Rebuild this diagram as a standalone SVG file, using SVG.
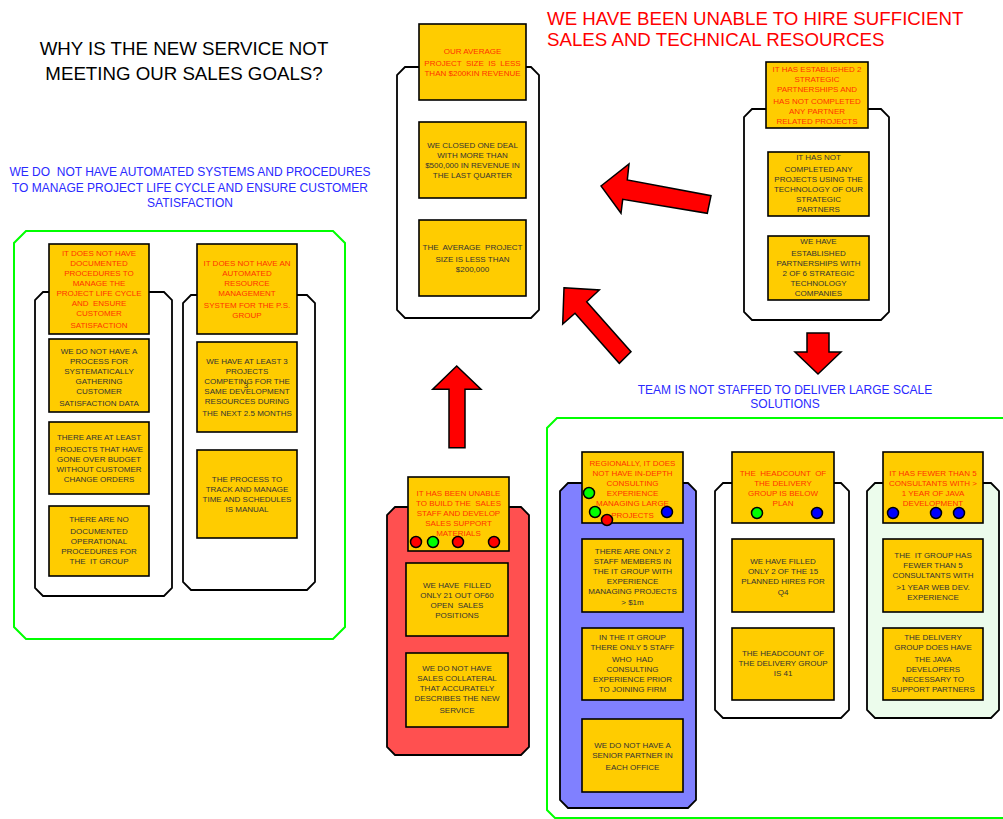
<svg xmlns="http://www.w3.org/2000/svg" width="1003" height="819" viewBox="0 0 1003 819">
<style>
text{font-family:"Liberation Sans",Arial,sans-serif;white-space:pre}
.big{font-size:18.7px;text-anchor:middle;fill:#000}
.redbig{font-size:18.7px;fill:#ff0000}
.blue{font-size:12px;fill:#2a2aff;text-anchor:middle}
.t{font-size:8px;fill:#333;text-anchor:middle}
.h{font-size:8px;fill:#ff3300;text-anchor:middle}
.box{fill:#ffcc00;stroke:#000;stroke-width:1.6}
.cont{stroke:#000;stroke-width:1.8}
.green{fill:#fff;stroke:#00ff00;stroke-width:2}
.arrow{fill:#ff0000;stroke:#000;stroke-width:1.5;stroke-linejoin:miter}
.dot{stroke:#000;stroke-width:1.5}
</style>

<g id="titles">
<text class="big" x="184" y="55">WHY IS THE NEW SERVICE NOT</text>
<text class="big" x="184" y="80">MEETING OUR SALES GOALS?</text>
<text class="redbig" x="547" y="25">WE HAVE BEEN UNABLE TO HIRE SUFFICIENT</text>
<text class="redbig" x="547" y="46">SALES AND TECHNICAL RESOURCES</text>
<text class="blue" x="190" y="176">WE DO  NOT HAVE AUTOMATED SYSTEMS AND PROCEDURES</text>
<text class="blue" x="190" y="192">TO MANAGE PROJECT LIFE CYCLE AND ENSURE CUSTOMER</text>
<text class="blue" x="190" y="207">SATISFACTION</text>
<text class="blue" x="785" y="394">TEAM IS NOT STAFFED TO DELIVER LARGE SCALE</text>
<text class="blue" x="785" y="408">SOLUTIONS</text>
</g>

<g id="frames">
<path class="green" d="M26,231 H333 L345,243 V627 L333,639 H26 L14,627 V243 Z"/>
<path class="green" d="M1012,418 H557 L547,428 V810 L555,818 H1012"/>
</g>

<g id="connectors">
<polygon class="arrow" points="456.7,366 481,389.3 465,389.3 465,447.7 449,447.7 449,389.3 432.7,389.3"/>
<polygon class="arrow" points="564,287.7 599.3,290 586.7,301.7 631,351.7 619.3,363.3 575,313.3 562.7,324"/>
<polygon class="arrow" points="601,186 629,164 627.3,180 711,195.7 707.3,213.3 622.7,199.3 621,213.3"/>
<polygon class="arrow" points="818,374 841,352 829,352 829,333 807,333 807,352 795,352"/>
</g>

<g id="group-left-1">
<path class="cont" fill="#fff" d="M43,292 H164 L172,300 V588 L164,596 H43 L35,588 V300 Z"/>
<rect class="box" x="49" y="244" width="100" height="90"/>
<text class="h" x="99" y="256">IT DOES NOT HAVE</text>
<text class="h" x="99" y="266">DOCUMENTED</text>
<text class="h" x="99" y="276">PROCEDURES TO</text>
<text class="h" x="99" y="286">MANAGE THE</text>
<text class="h" x="99" y="296">PROJECT LIFE CYCLE</text>
<text class="h" x="99" y="306">AND  ENSURE</text>
<text class="h" x="99" y="316">CUSTOMER</text>
<text class="h" x="99" y="328">SATISFACTION</text>
<rect class="box" x="49" y="339" width="100" height="73"/>
<text class="t" x="99" y="354">WE DO NOT HAVE A</text>
<text class="t" x="99" y="364">PROCESS FOR</text>
<text class="t" x="99" y="374">SYSTEMATICALLY</text>
<text class="t" x="99" y="384">GATHERING</text>
<text class="t" x="99" y="394">CUSTOMER</text>
<text class="t" x="99" y="406">SATISFACTION DATA</text>
<rect class="box" x="49" y="422" width="100" height="72"/>
<text class="t" x="99" y="440">THERE ARE AT LEAST</text>
<text class="t" x="99" y="452">PROJECTS THAT HAVE</text>
<text class="t" x="99" y="462">GONE OVER BUDGET</text>
<text class="t" x="99" y="472">WITHOUT CUSTOMER</text>
<text class="t" x="99" y="482">CHANGE ORDERS</text>
<rect class="box" x="49" y="506" width="100" height="70"/>
<text class="t" x="99" y="522">THERE ARE NO</text>
<text class="t" x="99" y="534">DOCUMENTED</text>
<text class="t" x="99" y="544">OPERATIONAL</text>
<text class="t" x="99" y="554">PROCEDURES FOR</text>
<text class="t" x="99" y="564">THE  IT GROUP</text>
</g>

<g id="group-left-2">
<path class="cont" fill="#fff" d="M191,295 H307 L315,303 V582 L307,590 H191 L183,582 V303 Z"/>
<rect class="box" x="197" y="244" width="100" height="90"/>
<text class="h" x="247" y="266">IT DOES NOT HAVE AN</text>
<text class="h" x="247" y="276">AUTOMATED</text>
<text class="h" x="247" y="286">RESOURCE</text>
<text class="h" x="247" y="296">MANAGEMENT</text>
<text class="h" x="247" y="308">SYSTEM FOR THE P.S.</text>
<text class="h" x="247" y="318">GROUP</text>
<rect class="box" x="197" y="342" width="100" height="90"/>
<text class="t" x="247" y="364">WE HAVE AT LEAST 3</text>
<text class="t" x="247" y="374">PROJECTS</text>
<text class="t" x="247" y="384">COMPETING FOR THE</text>
<text class="t" x="246" y="388">3</text>
<text class="t" x="247" y="394">SAME DEVELOPMENT</text>
<text class="t" x="247" y="404">RESOURCES DURING</text>
<text class="t" x="247" y="416">THE NEXT 2.5 MONTHS</text>
<rect class="box" x="197" y="450" width="100" height="88"/>
<text class="t" x="247" y="482">THE PROCESS TO</text>
<text class="t" x="247" y="492">TRACK AND MANAGE</text>
<text class="t" x="247" y="502">TIME AND SCHEDULES</text>
<text class="t" x="247" y="512">IS MANUAL</text>
</g>

<g id="group-top-middle">
<path class="cont" fill="#fff" d="M405,67 H531 L539,75 V310 L531,318 H405 L397,310 V75 Z"/>
<rect class="box" x="419" y="24" width="107" height="76"/>
<text class="h" x="472.5" y="54">OUR AVERAGE</text>
<text class="h" x="472.5" y="66">PROJECT  SIZE  IS  LESS</text>
<text class="h" x="472.5" y="76">THAN $200KIN REVENUE</text>
<rect class="box" x="419" y="122" width="107" height="76"/>
<text class="t" x="472.5" y="148">WE CLOSED ONE DEAL</text>
<text class="t" x="472.5" y="158">WITH MORE THAN</text>
<text class="t" x="472.5" y="168">$500,000 IN REVENUE IN</text>
<text class="t" x="472.5" y="178">THE LAST QUARTER</text>
<rect class="box" x="419" y="220" width="107" height="76"/>
<text class="t" x="472.5" y="250">THE  AVERAGE  PROJECT</text>
<text class="t" x="472.5" y="262">SIZE IS LESS THAN</text>
<text class="t" x="472.5" y="272">$200,000</text>
</g>

<g id="group-top-right">
<path class="cont" fill="#fff" d="M752,109 H881 L889,117 V312 L881,320 H752 L744,312 V117 Z"/>
<rect class="box" x="766" y="62" width="102" height="66"/>
<text class="h" x="817" y="72">IT HAS ESTABLISHED 2</text>
<text class="h" x="817" y="82">STRATEGIC</text>
<text class="h" x="817" y="92">PARTNERSHIPS AND</text>
<text class="h" x="817" y="104">HAS NOT COMPLETED</text>
<text class="h" x="817" y="114">ANY PARTNER</text>
<text class="h" x="817" y="124">RELATED PROJECTS</text>
<rect class="box" x="768" y="152" width="101" height="64"/>
<text class="t" x="818.5" y="160">IT HAS NOT</text>
<text class="t" x="818.5" y="172">COMPLETED ANY</text>
<text class="t" x="818.5" y="182">PROJECTS USING THE</text>
<text class="t" x="818.5" y="192">TECHNOLOGY OF OUR</text>
<text class="t" x="818.5" y="202">STRATEGIC</text>
<text class="t" x="818.5" y="212">PARTNERS</text>
<rect class="box" x="768" y="236" width="101" height="64"/>
<text class="t" x="818.5" y="244">WE HAVE</text>
<text class="t" x="818.5" y="256">ESTABLISHED</text>
<text class="t" x="818.5" y="266">PARTNERSHIPS WITH</text>
<text class="t" x="818.5" y="276">2 OF 6 STRATEGIC</text>
<text class="t" x="818.5" y="286">TECHNOLOGY</text>
<text class="t" x="818.5" y="296">COMPANIES</text>
</g>

<g id="group-red">
<path class="cont" fill="#ff5050" d="M395,507 H521 L529,515 V747 L521,755 H395 L387,747 V515 Z"/>
<rect class="box" x="408" y="477" width="101" height="74"/>
<text class="h" x="458.5" y="496">IT HAS BEEN UNABLE</text>
<text class="h" x="458.5" y="506">TO BUILD THE  SALES</text>
<text class="h" x="458.5" y="516">STAFF AND DEVELOP</text>
<text class="h" x="458.5" y="526">SALES SUPPORT</text>
<text class="h" x="458.5" y="536">MATERIALS</text>
<circle class="dot" cx="416" cy="542" r="5.5" fill="#ff0000"/>
<circle class="dot" cx="433" cy="542" r="5.5" fill="#00ff00"/>
<circle class="dot" cx="458" cy="542" r="5.5" fill="#ff0000"/>
<circle class="dot" cx="494" cy="542" r="5.5" fill="#ff0000"/>
<rect class="box" x="406" y="563" width="102" height="73"/>
<text class="t" x="457" y="588">WE HAVE  FILLED</text>
<text class="t" x="457" y="598">ONLY 21 OUT OF60</text>
<text class="t" x="457" y="608">OPEN  SALES</text>
<text class="t" x="457" y="618">POSITIONS</text>
<rect class="box" x="406" y="653" width="102" height="74"/>
<text class="t" x="457" y="671">WE DO NOT HAVE</text>
<text class="t" x="457" y="681">SALES COLLATERAL</text>
<text class="t" x="457" y="691">THAT ACCURATELY</text>
<text class="t" x="457" y="701">DESCRIBES THE NEW</text>
<text class="t" x="457" y="713">SERVICE</text>
</g>

<g id="group-purple">
<path class="cont" fill="#8080ff" d="M568,483 H688 L696,491 V800 L688,808 H568 L560,800 V491 Z"/>
<rect class="box" x="582" y="452" width="101" height="71"/>
<text class="h" x="632.5" y="466">REGIONALLY, IT DOES</text>
<text class="h" x="632.5" y="476">NOT HAVE IN-DEPTH</text>
<text class="h" x="632.5" y="486">CONSULTING</text>
<text class="h" x="632.5" y="496">EXPERIENCE</text>
<text class="h" x="632.5" y="506">MANAGING LARGE</text>
<text class="h" x="632.5" y="518">PROJECTS</text>
<circle class="dot" cx="589" cy="493" r="5.5" fill="#00ff00"/>
<circle class="dot" cx="595" cy="512" r="5.5" fill="#00ff00"/>
<circle class="dot" cx="607" cy="520" r="5.5" fill="#ff0000"/>
<circle class="dot" cx="667" cy="512" r="5.5" fill="#0000ff"/>
<rect class="box" x="582" y="539" width="101" height="73"/>
<text class="t" x="632.5" y="554">THERE ARE ONLY 2</text>
<text class="t" x="632.5" y="564">STAFF MEMBERS IN</text>
<text class="t" x="632.5" y="574">THE IT GROUP WITH</text>
<text class="t" x="632.5" y="584">EXPERIENCE</text>
<text class="t" x="632.5" y="594">MANAGING PROJECTS</text>
<text class="t" x="632.5" y="605">&gt; $1m</text>
<rect class="box" x="582" y="628" width="101" height="72"/>
<text class="t" x="632.5" y="640">IN THE IT GROUP</text>
<text class="t" x="632.5" y="650">THERE ONLY 5 STAFF</text>
<text class="t" x="632.5" y="662">WHO  HAD</text>
<text class="t" x="632.5" y="672">CONSULTING</text>
<text class="t" x="632.5" y="682">EXPERIENCE PRIOR</text>
<text class="t" x="632.5" y="692">TO JOINING FIRM</text>
<rect class="box" x="582" y="719" width="101" height="73"/>
<text class="t" x="632.5" y="748">WE DO NOT HAVE A</text>
<text class="t" x="632.5" y="758">SENIOR PARTNER IN</text>
<text class="t" x="632.5" y="770">EACH OFFICE</text>
</g>

<g id="group-delivery">
<path class="cont" fill="#fff" d="M723,483 H841 L849,491 V710 L841,718 H723 L715,710 V491 Z"/>
<rect class="box" x="732" y="452" width="102" height="71"/>
<text class="h" x="783" y="476">THE  HEADCOUNT  OF</text>
<text class="h" x="783" y="486">THE DELIVERY</text>
<text class="h" x="783" y="496">GROUP IS BELOW</text>
<text class="h" x="783" y="506">PLAN</text>
<circle class="dot" cx="757" cy="513" r="5.5" fill="#00ff00"/>
<circle class="dot" cx="817" cy="513" r="5.5" fill="#0000ff"/>
<rect class="box" x="732" y="539" width="102" height="73"/>
<text class="t" x="783" y="564">WE HAVE FILLED</text>
<text class="t" x="783" y="574">ONLY 2 OF THE 15</text>
<text class="t" x="783" y="584">PLANNED HIRES FOR</text>
<text class="t" x="783" y="595">Q4</text>
<rect class="box" x="732" y="628" width="102" height="72"/>
<text class="t" x="783" y="656">THE HEADCOUNT OF</text>
<text class="t" x="783" y="666">THE DELIVERY GROUP</text>
<text class="t" x="783" y="676">IS 41</text>
</g>

<g id="group-java">
<path class="cont" fill="#ecfcec" d="M875,483 H991 L999,491 V710 L991,718 H875 L867,710 V491 Z"/>
<rect class="box" x="883" y="452" width="100" height="71"/>
<text class="h" x="933" y="476">IT HAS FEWER THAN 5</text>
<text class="h" x="933" y="486">CONSULTANTS WITH &gt;</text>
<text class="h" x="933" y="496">1 YEAR OF JAVA</text>
<text class="h" x="933" y="506">DEVELOPMENT</text>
<circle class="dot" cx="893" cy="513" r="5.5" fill="#0000ff"/>
<circle class="dot" cx="936" cy="513" r="5.5" fill="#0000ff"/>
<circle class="dot" cx="959" cy="513" r="5.5" fill="#0000ff"/>
<rect class="box" x="883" y="539" width="100" height="73"/>
<text class="t" x="933" y="558">THE  IT GROUP HAS</text>
<text class="t" x="933" y="568">FEWER THAN 5</text>
<text class="t" x="933" y="578">CONSULTANTS WITH</text>
<text class="t" x="933" y="590">&gt;1 YEAR WEB DEV.</text>
<text class="t" x="933" y="600">EXPERIENCE</text>
<rect class="box" x="883" y="628" width="100" height="72"/>
<text class="t" x="933" y="640">THE DELIVERY</text>
<text class="t" x="933" y="650">GROUP DOES HAVE</text>
<text class="t" x="933" y="662">THE JAVA</text>
<text class="t" x="933" y="672">DEVELOPERS</text>
<text class="t" x="933" y="682">NECESSARY TO</text>
<text class="t" x="933" y="692">SUPPORT PARTNERS</text>
</g>
</svg>
